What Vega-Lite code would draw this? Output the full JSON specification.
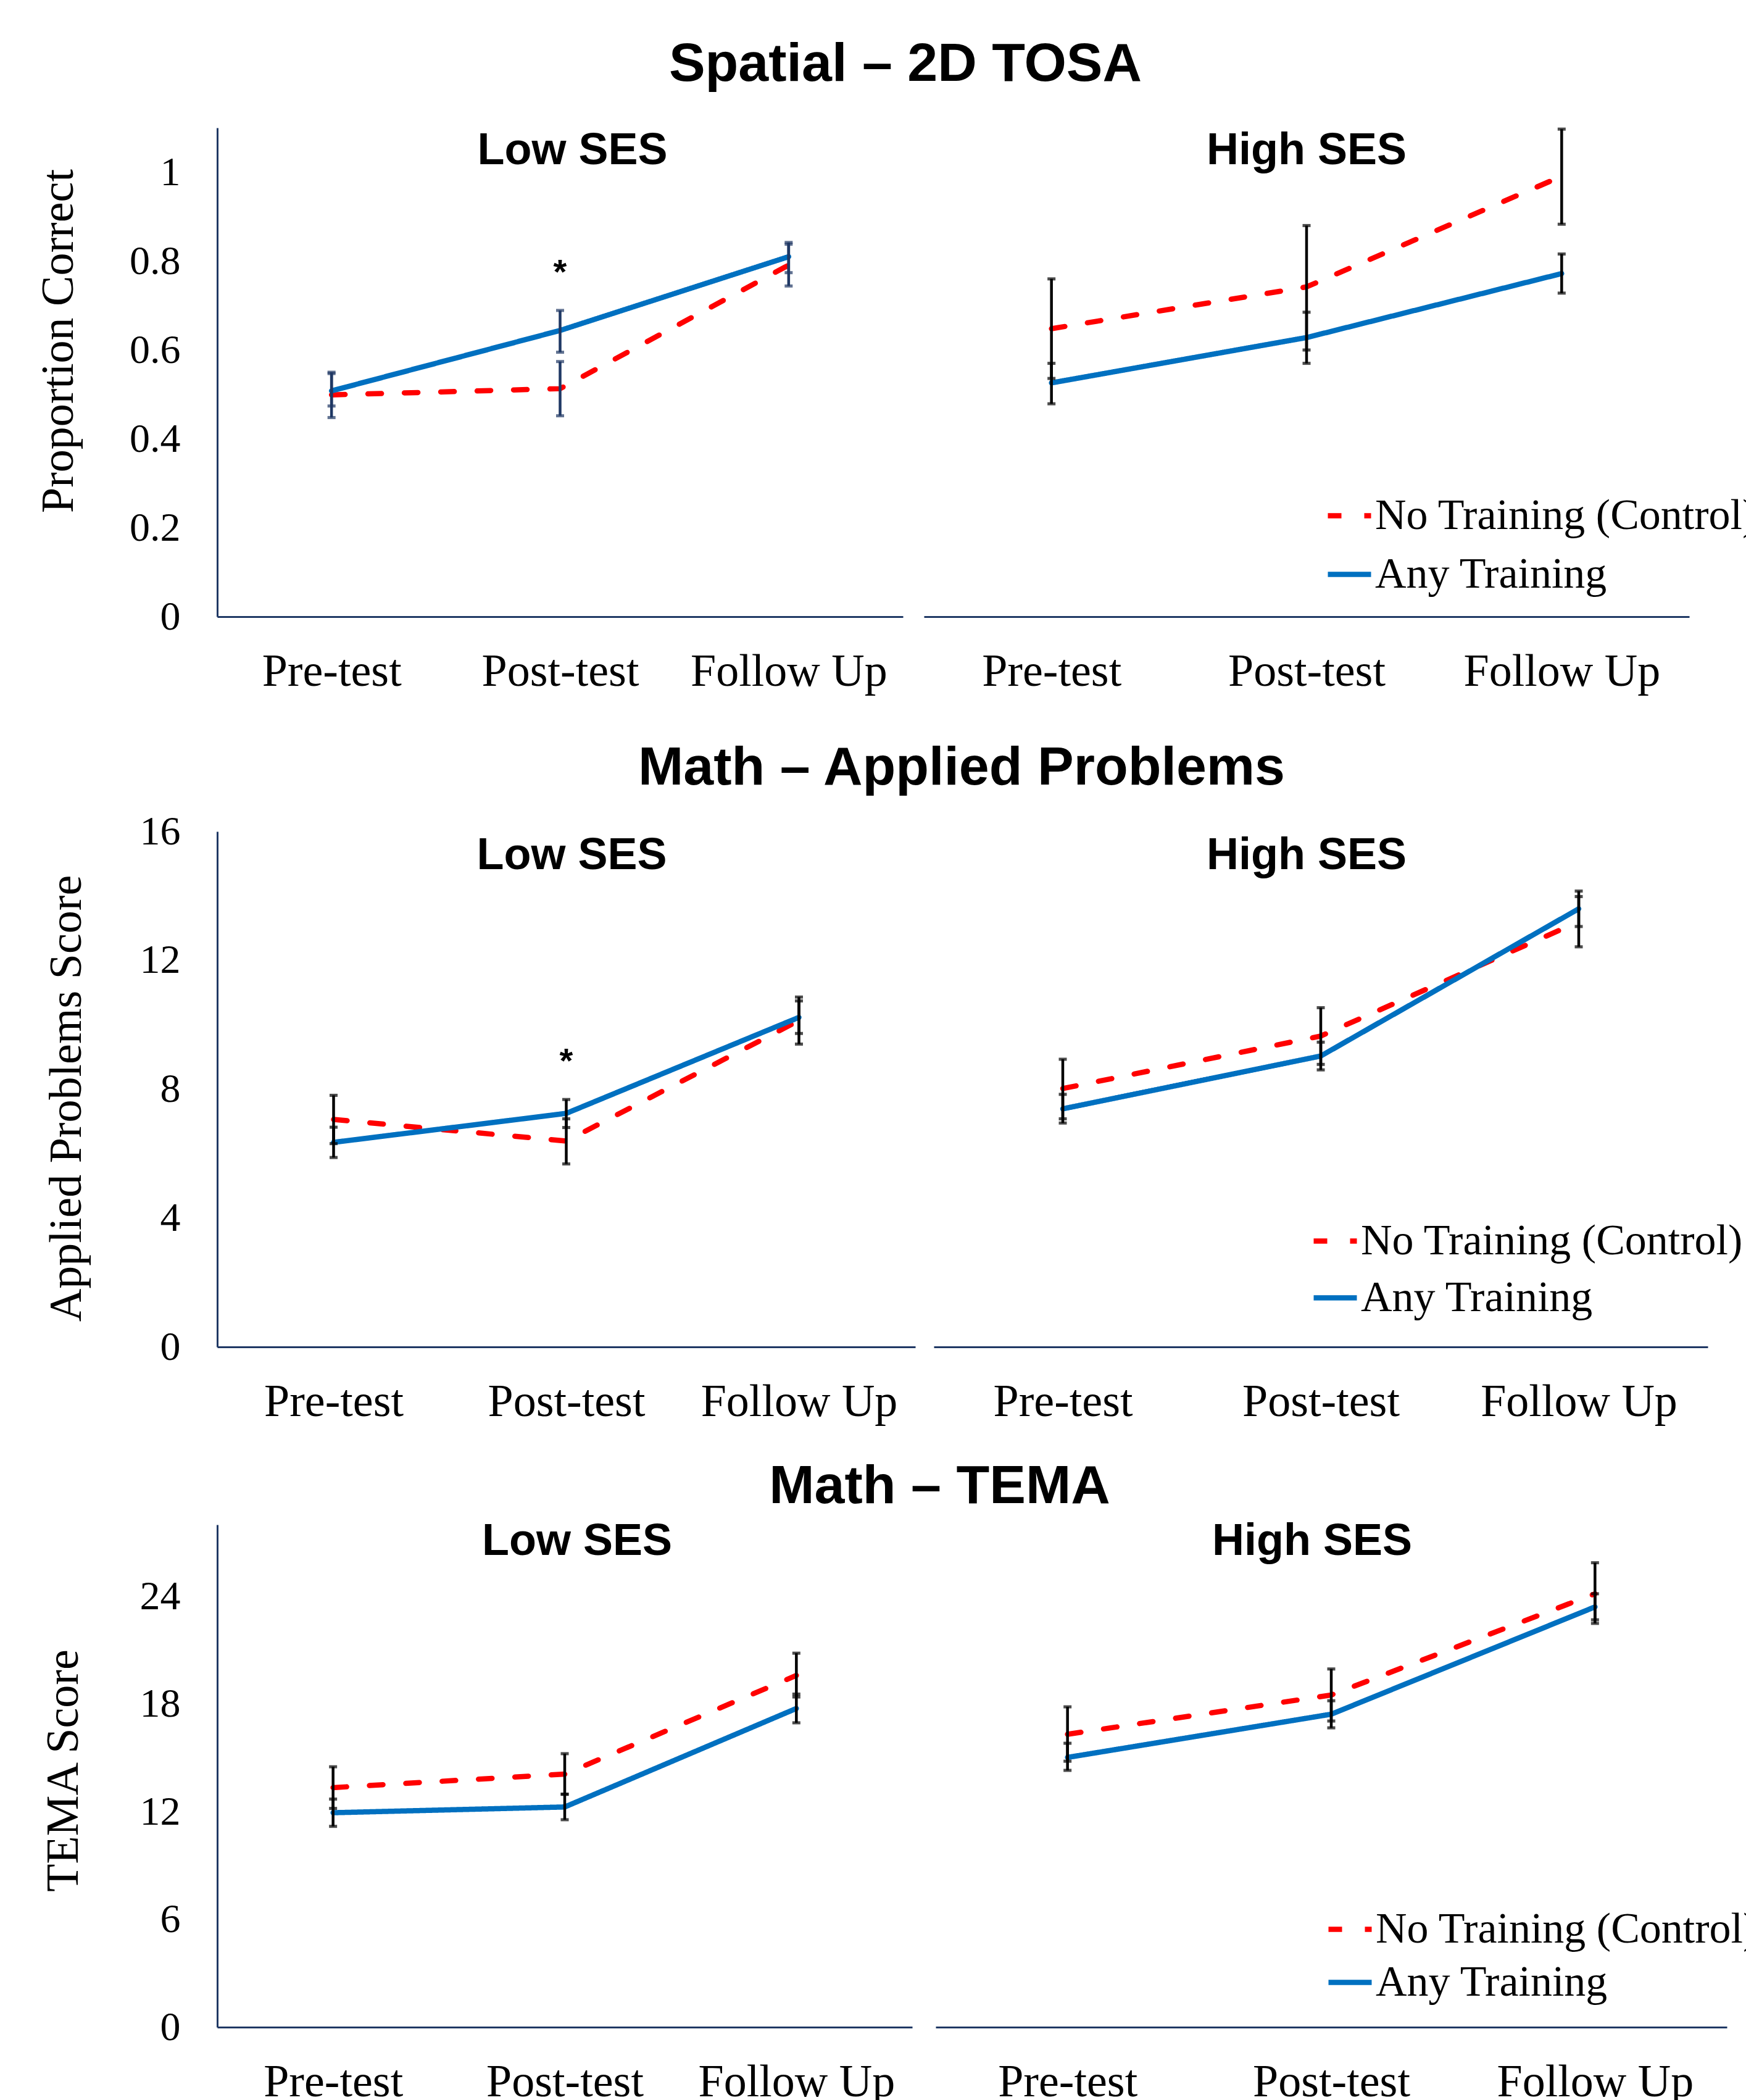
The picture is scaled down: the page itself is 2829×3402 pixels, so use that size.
{
  "$schema": "https://vega.github.io/schema/vega-lite/v6.json",
  "background": "white",
  "padding": {"left": 58, "top": 60, "right": 0, "bottom": 0},
  "config": {
    "view": {"stroke": null},
    "font": "Liberation Serif",
    "axis": {"domainColor": "#1F3864", "domainWidth": 3, "ticks": false, "tickSize": 0, "grid": false, "labelFont": "Liberation Serif", "labelColor": "#000000", "titleFont": "Liberation Serif", "titleFontWeight": "normal", "titleColor": "#000000", "titleFontSize": 74, "titleLimit": 3000, "labelLimit": 3000, "labelOverlap": false},
    "axisX": {"labelFontSize": 74, "labelPadding": 53, "labelAngle": 0},
    "axisY": {"labelFontSize": 66, "labelPadding": 60, "minExtent": 150, "maxExtent": 150},
    "title": {"font": "Liberation Sans", "fontWeight": "bold", "fontSize": 72, "color": "#000000", "baseline": "bottom", "anchor": "middle", "frame": "group", "limit": 0},
    "legend": {"title": null, "orient": "none", "labelFont": "Liberation Serif", "labelFontSize": 70, "labelColor": "#000000", "symbolSize": 4900, "symbolStrokeWidth": 8.5, "symbolType": "stroke", "labelOffset": 2, "labelLimit": 3000, "padding": 0}
  },
  "datasets": {
    "scores": [
      {"t": "TOSA", "s": "Low", "time": "Pre-test", "g": "No Training (Control)", "v": 0.499, "lo": 0.448, "hi": 0.55},
      {"t": "TOSA", "s": "Low", "time": "Post-test", "g": "No Training (Control)", "v": 0.513, "lo": 0.452, "hi": 0.574},
      {"t": "TOSA", "s": "Low", "time": "Follow Up", "g": "No Training (Control)", "v": 0.791, "lo": 0.744, "hi": 0.838},
      {"t": "TOSA", "s": "Low", "time": "Pre-test", "g": "Any Training", "v": 0.508, "lo": 0.474, "hi": 0.547},
      {"t": "TOSA", "s": "Low", "time": "Post-test", "g": "Any Training", "v": 0.644, "lo": 0.595, "hi": 0.689},
      {"t": "TOSA", "s": "Low", "time": "Follow Up", "g": "Any Training", "v": 0.81, "lo": 0.774, "hi": 0.842},
      {"t": "TOSA", "s": "High", "time": "Pre-test", "g": "No Training (Control)", "v": 0.648, "lo": 0.536, "hi": 0.76},
      {"t": "TOSA", "s": "High", "time": "Post-test", "g": "No Training (Control)", "v": 0.742, "lo": 0.6, "hi": 0.88},
      {"t": "TOSA", "s": "High", "time": "Follow Up", "g": "No Training (Control)", "v": 0.991, "lo": 0.883, "hi": 1.097},
      {"t": "TOSA", "s": "High", "time": "Pre-test", "g": "Any Training", "v": 0.526, "lo": 0.479, "hi": 0.57},
      {"t": "TOSA", "s": "High", "time": "Post-test", "g": "Any Training", "v": 0.628, "lo": 0.57, "hi": 0.685},
      {"t": "TOSA", "s": "High", "time": "Follow Up", "g": "Any Training", "v": 0.772, "lo": 0.728, "hi": 0.816},
      {"t": "AP", "s": "Low", "time": "Pre-test", "g": "No Training (Control)", "v": 7.06, "lo": 6.31, "hi": 7.81},
      {"t": "AP", "s": "Low", "time": "Post-test", "g": "No Training (Control)", "v": 6.39, "lo": 5.68, "hi": 7.08},
      {"t": "AP", "s": "Low", "time": "Follow Up", "g": "No Training (Control)", "v": 10.13, "lo": 9.4, "hi": 10.86},
      {"t": "AP", "s": "Low", "time": "Pre-test", "g": "Any Training", "v": 6.35, "lo": 5.88, "hi": 6.82},
      {"t": "AP", "s": "Low", "time": "Post-test", "g": "Any Training", "v": 7.25, "lo": 6.81, "hi": 7.68},
      {"t": "AP", "s": "Low", "time": "Follow Up", "g": "Any Training", "v": 10.23, "lo": 9.73, "hi": 10.74},
      {"t": "AP", "s": "High", "time": "Pre-test", "g": "No Training (Control)", "v": 8.02, "lo": 7.08, "hi": 8.93},
      {"t": "AP", "s": "High", "time": "Post-test", "g": "No Training (Control)", "v": 9.65, "lo": 8.77, "hi": 10.53},
      {"t": "AP", "s": "High", "time": "Follow Up", "g": "No Training (Control)", "v": 13.2, "lo": 12.42, "hi": 13.98},
      {"t": "AP", "s": "High", "time": "Pre-test", "g": "Any Training", "v": 7.39, "lo": 6.95, "hi": 7.84},
      {"t": "AP", "s": "High", "time": "Post-test", "g": "Any Training", "v": 9.03, "lo": 8.6, "hi": 9.46},
      {"t": "AP", "s": "High", "time": "Follow Up", "g": "Any Training", "v": 13.6, "lo": 13.05, "hi": 14.15},
      {"t": "TEMA", "s": "Low", "time": "Pre-test", "g": "No Training (Control)", "v": 13.35, "lo": 12.19, "hi": 14.51},
      {"t": "TEMA", "s": "Low", "time": "Post-test", "g": "No Training (Control)", "v": 14.1, "lo": 12.98, "hi": 15.24},
      {"t": "TEMA", "s": "Low", "time": "Follow Up", "g": "No Training (Control)", "v": 19.6, "lo": 18.4, "hi": 20.84},
      {"t": "TEMA", "s": "Low", "time": "Pre-test", "g": "Any Training", "v": 11.95, "lo": 11.19, "hi": 12.71},
      {"t": "TEMA", "s": "Low", "time": "Post-test", "g": "Any Training", "v": 12.27, "lo": 11.56, "hi": 12.98},
      {"t": "TEMA", "s": "Low", "time": "Follow Up", "g": "Any Training", "v": 17.76, "lo": 16.96, "hi": 18.56},
      {"t": "TEMA", "s": "High", "time": "Pre-test", "g": "No Training (Control)", "v": 16.32, "lo": 14.82, "hi": 17.85},
      {"t": "TEMA", "s": "High", "time": "Post-test", "g": "No Training (Control)", "v": 18.51, "lo": 17.06, "hi": 19.96},
      {"t": "TEMA", "s": "High", "time": "Follow Up", "g": "No Training (Control)", "v": 24.15, "lo": 22.5, "hi": 25.88},
      {"t": "TEMA", "s": "High", "time": "Pre-test", "g": "Any Training", "v": 15.03, "lo": 14.31, "hi": 15.82},
      {"t": "TEMA", "s": "High", "time": "Post-test", "g": "Any Training", "v": 17.44, "lo": 16.68, "hi": 18.19},
      {"t": "TEMA", "s": "High", "time": "Follow Up", "g": "Any Training", "v": 23.42, "lo": 22.7, "hi": 24.15}
    ],
    "stars": [
      {"t": "TOSA", "s": "Low", "time": "Post-test", "v": 0.795, "label": "*"},
      {"t": "AP", "s": "Low", "time": "Post-test", "v": 9.14, "label": "*"}
    ]
  },
  "resolve": {"scale": {"color": "independent", "strokeDash": "independent"}, "legend": {"color": "independent", "strokeDash": "independent"}},
  "spacing": 57,
  "vconcat": [
    {
      "spacing": 76,
      "resolve": {"scale": {"color": "independent", "strokeDash": "independent"}, "legend": {"color": "independent", "strokeDash": "independent"}},
      "vconcat": [
        {
          "title": {"text": "Spatial – 2D TOSA", "fontSize": 88, "frame": "bounds", "offset": 58, "dx": 14},
          "spacing": 34,
          "resolve": {"scale": {"color": "independent", "strokeDash": "independent"}, "legend": {"color": "independent", "strokeDash": "independent"}},
          "hconcat": [
            {
              "width": 1111, "height": 792,
              "data": {"name": "scores"},
              "transform": [{"filter": "datum.t == 'TOSA' && datum.s == 'Low'"}],
              "title": {"text": "Low SES", "offset": -74, "dx": 20},
              "encoding": {"x": {"field": "time", "type": "nominal", "sort": null, "scale": {"type": "point", "padding": 0.5, "domain": ["Pre-test", "Post-test", "Follow Up"]}, "axis": {"title": null}}},
              "layer": [
                {"mark": {"type": "line", "strokeWidth": 8.5, "strokeCap": "round"},
                 "encoding": {
                   "y": {"field": "v", "type": "quantitative", "title": "Proportion Correct", "scale": {"domain": [0, 1.1], "nice": false}, "axis": {"values": [0, 0.2, 0.4, 0.6, 0.8, 1], "format": "~g", "titleY": 345, "titlePadding": 69}},
                   "color": {"field": "g", "type": "nominal", "scale": {"domain": ["No Training (Control)", "Any Training"], "range": ["#FF0000", "#0070C0"]}, "legend": null},
                   "strokeDash": {"field": "g", "type": "nominal", "scale": {"domain": ["No Training (Control)", "Any Training"], "range": [[22, 37], [1, 0]]}, "legend": null}}},
                {"mark": {"type": "rule", "color": "#1F3864", "strokeWidth": 4.5},
                 "encoding": {"y": {"field": "lo", "type": "quantitative", "title": "Proportion Correct", "scale": {"domain": [0, 1.1], "nice": false}}, "y2": {"field": "hi"}, "detail": {"field": "g"}}},
                {"mark": {"type": "tick", "color": "#1F3864", "thickness": 5, "size": 13},
                 "encoding": {"y": {"field": "lo", "type": "quantitative", "title": "Proportion Correct", "scale": {"domain": [0, 1.1], "nice": false}}}},
                {"mark": {"type": "tick", "color": "#1F3864", "thickness": 5, "size": 13},
                 "encoding": {"y": {"field": "hi", "type": "quantitative", "title": "Proportion Correct", "scale": {"domain": [0, 1.1], "nice": false}}}},
                {"data": {"name": "stars"},
                 "transform": [{"filter": "datum.t == 'TOSA' && datum.s == 'Low'"}],
                 "mark": {"type": "text", "font": "Liberation Sans", "fontWeight": "bold", "fontSize": 56, "baseline": "middle", "dy": 15, "color": "#000000"},
                 "encoding": {"y": {"field": "v", "type": "quantitative", "title": "Proportion Correct", "scale": {"domain": [0, 1.1], "nice": false}}, "text": {"field": "label"}}}
              ]
            },
            {
              "width": 1240, "height": 792,
              "data": {"name": "scores"},
              "transform": [{"filter": "datum.t == 'TOSA' && datum.s == 'High'"}],
              "title": {"text": "High SES", "offset": -74, "dx": 0},
              "encoding": {"x": {"field": "time", "type": "nominal", "sort": null, "scale": {"type": "point", "padding": 0.5, "domain": ["Pre-test", "Post-test", "Follow Up"]}, "axis": {"title": null}}},
              "layer": [
                {"mark": {"type": "line", "strokeWidth": 8.5, "strokeCap": "round"},
                 "encoding": {
                   "y": {"field": "v", "type": "quantitative", "scale": {"domain": [0, 1.1], "nice": false}, "axis": null},
                   "color": {"field": "g", "type": "nominal", "scale": {"domain": ["No Training (Control)", "Any Training"], "range": ["#FF0000", "#0070C0"]}, "legend": {"legendX": 650, "legendY": 589, "rowPadding": 20}},
                   "strokeDash": {"field": "g", "type": "nominal", "scale": {"domain": ["No Training (Control)", "Any Training"], "range": [[22, 37], [1, 0]]}, "legend": {"legendX": 650, "legendY": 589, "rowPadding": 20}}}},
                {"mark": {"type": "rule", "color": "#000000", "strokeWidth": 4.5},
                 "encoding": {"y": {"field": "lo", "type": "quantitative", "scale": {"domain": [0, 1.1], "nice": false}, "axis": null}, "y2": {"field": "hi"}, "detail": {"field": "g"}}},
                {"mark": {"type": "tick", "color": "#000000", "thickness": 5, "size": 13},
                 "encoding": {"y": {"field": "lo", "type": "quantitative", "scale": {"domain": [0, 1.1], "nice": false}, "axis": null}}},
                {"mark": {"type": "tick", "color": "#000000", "thickness": 5, "size": 13},
                 "encoding": {"y": {"field": "hi", "type": "quantitative", "scale": {"domain": [0, 1.1], "nice": false}, "axis": null}}}
              ]
            }
          ]
        },
        {
          "title": {"text": "Math – Applied Problems", "fontSize": 88, "frame": "bounds", "offset": 25, "dx": 110},
          "spacing": 30,
          "resolve": {"scale": {"color": "independent", "strokeDash": "independent"}, "legend": {"color": "independent", "strokeDash": "independent"}},
          "hconcat": [
            {
              "width": 1131, "height": 835,
              "data": {"name": "scores"},
              "transform": [{"filter": "datum.t == 'AP' && datum.s == 'Low'"}],
              "title": {"text": "Low SES", "offset": -109, "dx": 9},
              "encoding": {"x": {"field": "time", "type": "nominal", "sort": null, "scale": {"type": "point", "padding": 0.5, "domain": ["Pre-test", "Post-test", "Follow Up"]}, "axis": {"title": null}}},
              "layer": [
                {"mark": {"type": "line", "strokeWidth": 8.5, "strokeCap": "round"},
                 "encoding": {
                   "y": {"field": "v", "type": "quantitative", "title": "Applied Problems Score", "scale": {"domain": [0, 16], "nice": false}, "axis": {"values": [0, 4, 8, 12, 16], "titleY": 432, "titlePadding": 56}},
                   "color": {"field": "g", "type": "nominal", "scale": {"domain": ["No Training (Control)", "Any Training"], "range": ["#FF0000", "#0070C0"]}, "legend": null},
                   "strokeDash": {"field": "g", "type": "nominal", "scale": {"domain": ["No Training (Control)", "Any Training"], "range": [[22, 37], [1, 0]]}, "legend": null}}},
                {"mark": {"type": "rule", "color": "#000000", "strokeWidth": 4.5},
                 "encoding": {"y": {"field": "lo", "type": "quantitative", "title": "Applied Problems Score", "scale": {"domain": [0, 16], "nice": false}}, "y2": {"field": "hi"}, "detail": {"field": "g"}}},
                {"mark": {"type": "tick", "color": "#000000", "thickness": 5, "size": 13},
                 "encoding": {"y": {"field": "lo", "type": "quantitative", "title": "Applied Problems Score", "scale": {"domain": [0, 16], "nice": false}}}},
                {"mark": {"type": "tick", "color": "#000000", "thickness": 5, "size": 13},
                 "encoding": {"y": {"field": "hi", "type": "quantitative", "title": "Applied Problems Score", "scale": {"domain": [0, 16], "nice": false}}}},
                {"data": {"name": "stars"},
                 "transform": [{"filter": "datum.t == 'AP' && datum.s == 'Low'"}],
                 "mark": {"type": "text", "font": "Liberation Sans", "fontWeight": "bold", "fontSize": 56, "baseline": "middle", "dy": 15, "color": "#000000"},
                 "encoding": {"y": {"field": "v", "type": "quantitative", "title": "Applied Problems Score", "scale": {"domain": [0, 16], "nice": false}}, "text": {"field": "label"}}}
              ]
            },
            {
              "width": 1254, "height": 835,
              "data": {"name": "scores"},
              "transform": [{"filter": "datum.t == 'AP' && datum.s == 'High'"}],
              "title": {"text": "High SES", "offset": -76, "dx": -23},
              "encoding": {"x": {"field": "time", "type": "nominal", "sort": null, "scale": {"type": "point", "padding": 0.5, "domain": ["Pre-test", "Post-test", "Follow Up"]}, "axis": {"title": null}}},
              "layer": [
                {"mark": {"type": "line", "strokeWidth": 8.5, "strokeCap": "round"},
                 "encoding": {
                   "y": {"field": "v", "type": "quantitative", "scale": {"domain": [0, 16], "nice": false}, "axis": null},
                   "color": {"field": "g", "type": "nominal", "scale": {"domain": ["No Training (Control)", "Any Training"], "range": ["#FF0000", "#0070C0"]}, "legend": {"legendX": 611, "legendY": 624, "rowPadding": 17}},
                   "strokeDash": {"field": "g", "type": "nominal", "scale": {"domain": ["No Training (Control)", "Any Training"], "range": [[22, 37], [1, 0]]}, "legend": {"legendX": 611, "legendY": 624, "rowPadding": 17}}}},
                {"mark": {"type": "rule", "color": "#000000", "strokeWidth": 4.5},
                 "encoding": {"y": {"field": "lo", "type": "quantitative", "scale": {"domain": [0, 16], "nice": false}, "axis": null}, "y2": {"field": "hi"}, "detail": {"field": "g"}}},
                {"mark": {"type": "tick", "color": "#000000", "thickness": 5, "size": 13},
                 "encoding": {"y": {"field": "lo", "type": "quantitative", "scale": {"domain": [0, 16], "nice": false}, "axis": null}}},
                {"mark": {"type": "tick", "color": "#000000", "thickness": 5, "size": 13},
                 "encoding": {"y": {"field": "hi", "type": "quantitative", "scale": {"domain": [0, 16], "nice": false}, "axis": null}}}
              ]
            }
          ]
        }
      ]
    },
    {
      "title": {"text": "Math – TEMA", "fontSize": 88, "frame": "bounds", "offset": 8, "dx": 65},
      "spacing": 38,
      "resolve": {"scale": {"color": "independent", "strokeDash": "independent"}, "legend": {"color": "independent", "strokeDash": "independent"}},
      "hconcat": [
        {
          "width": 1126, "height": 814,
          "data": {"name": "scores"},
          "transform": [{"filter": "datum.t == 'TEMA' && datum.s == 'Low'"}],
          "title": {"text": "Low SES", "offset": -64, "dx": 20},
          "encoding": {"x": {"field": "time", "type": "nominal", "sort": null, "scale": {"type": "point", "padding": 0.5, "domain": ["Pre-test", "Post-test", "Follow Up"]}, "axis": {"title": null}}},
          "layer": [
            {"mark": {"type": "line", "strokeWidth": 8.5, "strokeCap": "round"},
             "encoding": {
               "y": {"field": "v", "type": "quantitative", "title": "TEMA Score", "scale": {"domain": [0, 28], "nice": false}, "axis": {"values": [0, 6, 12, 18, 24], "titleY": 398, "titlePadding": 61}},
               "color": {"field": "g", "type": "nominal", "scale": {"domain": ["No Training (Control)", "Any Training"], "range": ["#FF0000", "#0070C0"]}, "legend": null},
               "strokeDash": {"field": "g", "type": "nominal", "scale": {"domain": ["No Training (Control)", "Any Training"], "range": [[22, 37], [1, 0]]}, "legend": null}}},
            {"mark": {"type": "rule", "color": "#000000", "strokeWidth": 4.5},
             "encoding": {"y": {"field": "lo", "type": "quantitative", "title": "TEMA Score", "scale": {"domain": [0, 28], "nice": false}}, "y2": {"field": "hi"}, "detail": {"field": "g"}}},
            {"mark": {"type": "tick", "color": "#000000", "thickness": 5, "size": 13},
             "encoding": {"y": {"field": "lo", "type": "quantitative", "title": "TEMA Score", "scale": {"domain": [0, 28], "nice": false}}}},
            {"mark": {"type": "tick", "color": "#000000", "thickness": 5, "size": 13},
             "encoding": {"y": {"field": "hi", "type": "quantitative", "title": "TEMA Score", "scale": {"domain": [0, 28], "nice": false}}}}
          ]
        },
        {
          "width": 1282, "height": 814,
          "data": {"name": "scores"},
          "transform": [{"filter": "datum.t == 'TEMA' && datum.s == 'High'"}],
          "title": {"text": "High SES", "offset": -64, "dx": -31},
          "encoding": {"x": {"field": "time", "type": "nominal", "sort": null, "scale": {"type": "point", "padding": 0.5, "domain": ["Pre-test", "Post-test", "Follow Up"]}, "axis": {"title": null}}},
          "layer": [
            {"mark": {"type": "line", "strokeWidth": 8.5, "strokeCap": "round"},
             "encoding": {
               "y": {"field": "v", "type": "quantitative", "scale": {"domain": [0, 28], "nice": false}, "axis": null},
               "color": {"field": "g", "type": "nominal", "scale": {"domain": ["No Training (Control)", "Any Training"], "range": ["#FF0000", "#0070C0"]}, "legend": {"legendX": 632, "legendY": 616, "rowPadding": 11}},
               "strokeDash": {"field": "g", "type": "nominal", "scale": {"domain": ["No Training (Control)", "Any Training"], "range": [[22, 37], [1, 0]]}, "legend": {"legendX": 632, "legendY": 616, "rowPadding": 11}}}},
            {"mark": {"type": "rule", "color": "#000000", "strokeWidth": 4.5},
             "encoding": {"y": {"field": "lo", "type": "quantitative", "scale": {"domain": [0, 28], "nice": false}, "axis": null}, "y2": {"field": "hi"}, "detail": {"field": "g"}}},
            {"mark": {"type": "tick", "color": "#000000", "thickness": 5, "size": 13},
             "encoding": {"y": {"field": "lo", "type": "quantitative", "scale": {"domain": [0, 28], "nice": false}, "axis": null}}},
            {"mark": {"type": "tick", "color": "#000000", "thickness": 5, "size": 13},
             "encoding": {"y": {"field": "hi", "type": "quantitative", "scale": {"domain": [0, 28], "nice": false}, "axis": null}}}
          ]
        }
      ]
    }
  ]
}
